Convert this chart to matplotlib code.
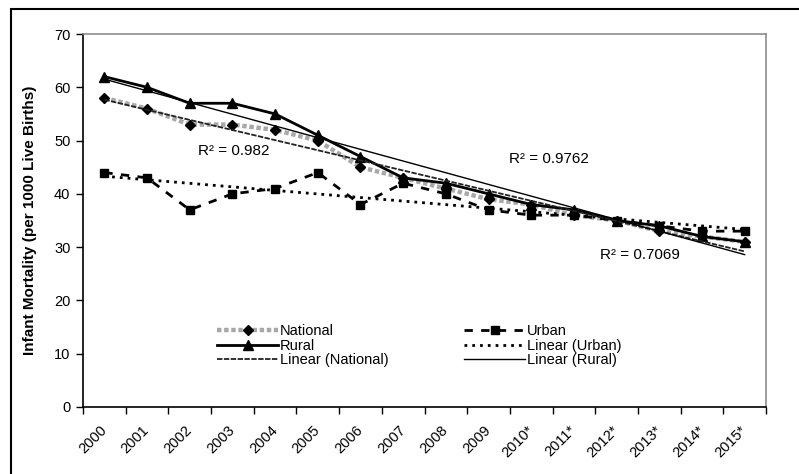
import numpy as np
import matplotlib
matplotlib.use("Agg")
import matplotlib.pyplot as plt
from matplotlib.patches import Rectangle

years = ["2000", "2001", "2002", "2003", "2004", "2005", "2006", "2007",
         "2008", "2009", "2010*", "2011*", "2012*", "2013*", "2014*", "2015*"]
national = [58, 56, 53, 53, 52, 50, 45, 43, 41, 39, 38, 36, 35, 33, 32, 31]
rural = [62, 60, 57, 57, 55, 51, 47, 43, 42, 40, 38, 37, 35, 34, 32, 31]
urban = [44, 43, 37, 40, 41, 44, 38, 42, 40, 37, 36, 36, 35, 34, 33, 33]
r2_labels = ["R\u00b2 = 0.982", "R\u00b2 = 0.9762", "R\u00b2 = 0.7069"]

plt.rcParams['font.family'] = ['Liberation Sans', 'DejaVu Sans']

W, H = 799, 474
fig = plt.figure(figsize=(W / 100, H / 100), dpi=100)
ax = fig.add_axes([83 / W, (H - 407) / H, (766 - 83) / W, (407 - 34) / H])

x = np.arange(len(years))

# fitted trend lines
def trend(vals):
    k, b = np.polyfit(x + 1, np.asarray(vals, float), 1)
    return k * (x + 1) + b

ln_nat, = ax.plot(x, national, color='#a8a8a8', lw=3.2, ls=(0, (1, 0.6)),
                  marker='D', ms=5, mfc='black', mec='black', zorder=3)
ln_rur, = ax.plot(x, rural, color='black', lw=2, marker='^', ms=7,
                  mfc='black', mec='black', zorder=4)
ln_urb, = ax.plot(x, urban, color='black', lw=2, ls=(0, (3, 3)), marker='s',
                  ms=5.5, mfc='black', mec='black', zorder=4)
tr_urb, = ax.plot(x, trend(urban), color='black', lw=2, ls=(0, (1, 1.8)), zorder=5)
tr_nat, = ax.plot(x, trend(national), color='#222222', lw=1.3, ls=(0, (3, 0.8)), zorder=5)
tr_rur, = ax.plot(x, trend(rural), color='black', lw=1, zorder=5)

ax.set_xlim(-0.5, len(years) - 0.5)
ax.set_ylim(0, 70)
ax.set_yticks(np.arange(0, 71, 10))
ax.set_xticks(x)
ax.set_xticklabels(years, rotation=45, ha='right', va='center',
                   rotation_mode='anchor', fontsize=10.5)
ax.set_xticks(np.arange(-0.5, len(years), 1), minor=True)
ax.tick_params(axis='x', which='major', length=0, pad=15)
ax.tick_params(axis='x', which='minor', length=5, width=1, direction='out', color='black')
ax.tick_params(axis='y', length=5, width=1, direction='out', labelsize=10.5, pad=4)

for s in ['left', 'bottom']:
    ax.spines[s].set_color('black')
    ax.spines[s].set_linewidth(1.2)
for s in ['top', 'right']:
    ax.spines[s].set_color('#8c8c8c')
    ax.spines[s].set_linewidth(1.2)

ax.set_ylabel("Infant Mortality (per 1000 Live Births)", fontsize=11,
              fontweight='bold')
ax.yaxis.set_label_coords(-0.067, 0.5)

# R-squared labels
ax.text(2.2, 47.3, r2_labels[0], fontsize=11, va='baseline', ha='left')
ax.text(9.47, 45.7, r2_labels[1], fontsize=11, va='baseline', ha='left')
ax.text(11.6, 27.8, r2_labels[2], fontsize=11, va='baseline', ha='left')

handles = [ln_nat, ln_rur, tr_nat, ln_urb, tr_urb, tr_rur]
labels = ["National", "Rural", "Linear (National)", "Urban", "Linear (Urban)",
          "Linear (Rural)"]
fig.legend(handles, labels, ncol=2, loc='upper left',
           bbox_to_anchor=(217 / W, (H - 324) / H), frameon=False,
           fontsize=10.5, handlelength=4.2, handletextpad=0.1,
           labelspacing=0.05, columnspacing=5.2, borderpad=0, borderaxespad=0)

# outer border
fig.patches.append(Rectangle((11 / W, -0.1), 2.0, (H - 9) / H + 0.1,
                             transform=fig.transFigure, fill=False,
                             edgecolor='black', lw=1.5))

# title (cut off at top in the reference: only descenders visible)
fig.text(788 / W, (H + 5) / H,
         "Trends and projections of Rural and Urban Infant Mortality",
         fontsize=18.5, fontweight='bold', family=['Liberation Serif'],
         ha='right', va='baseline')

fig.savefig("out.png", dpi=100)
